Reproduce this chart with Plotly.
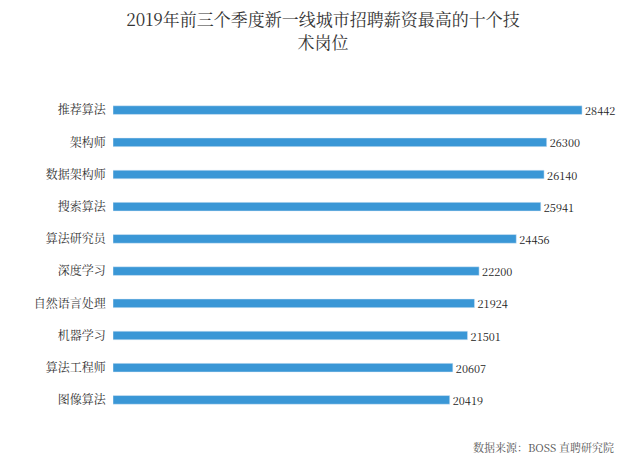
import plotly.graph_objects as go

jobs = ["推荐算法", "架构师", "数据架构师", "搜索算法", "算法研究员",
        "深度学习", "自然语言处理", "机器学习", "算法工程师", "图像算法"]
salary = [28442, 26300, 26140, 25941, 24456, 22200, 21924, 21501, 20607, 20419]

font = "Noto Serif CJK SC, Noto Sans CJK SC, serif"

fig = go.Figure(go.Bar(
    x=salary, y=jobs, orientation="h",
    marker_color="#3a97d6", width=0.27,
    text=salary, textposition="outside", cliponaxis=False,
    constraintext="none",
    textfont=dict(size=11, color="#222"),
))
fig.update_layout(
    width=630, height=460,
    margin=dict(l=105, r=22, t=86, b=52),
    paper_bgcolor="white", plot_bgcolor="white",
    font=dict(family=font, color="#333"),
    showlegend=False,
    title=dict(text="2019年前三个季度新一线城市招聘薪资最高的十个技<br>术岗位",
               x=0.5, y=0.96, xanchor="center", yanchor="top",
               font=dict(size=17, color="#333")),
    xaxis=dict(range=[0, 30500], visible=False),
    yaxis=dict(autorange="reversed", showline=False, ticks="",
               tickfont=dict(size=12, color="#333"), ticksuffix="  "),
    annotations=[dict(text="数据来源：BOSS 直聘研究院", xref="paper", yref="paper",
                      x=1.0, y=-0.095, xanchor="right", yanchor="middle",
                      showarrow=False, font=dict(size=11, color="#555"))],
)
fig.write_html("out.html")
